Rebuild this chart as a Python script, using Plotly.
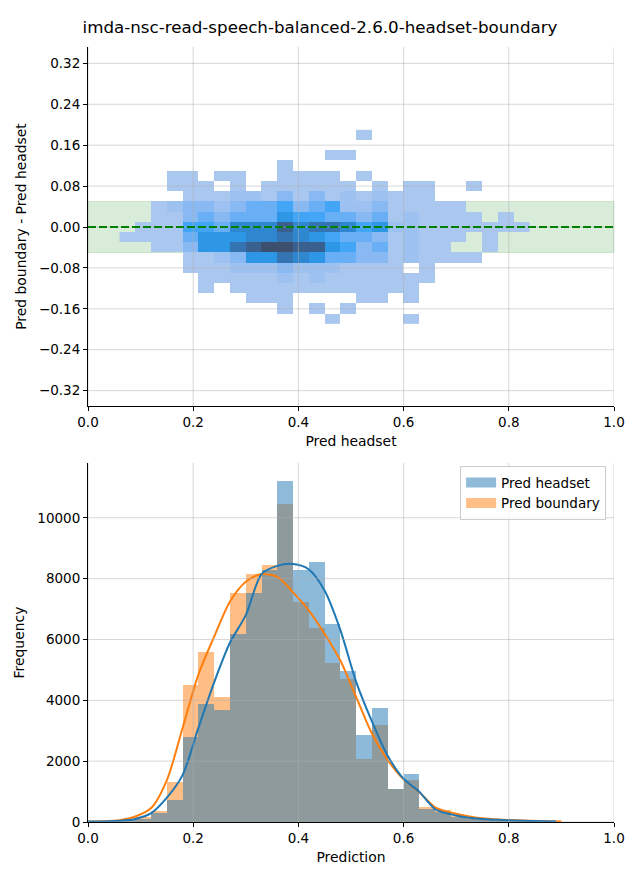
import plotly.graph_objects as go

# ---------------- data ----------------
title_text = "imda-nsc-read-speech-balanced-2.6.0-headset-boundary"

# 2D histogram (top): bin centres
hm_x = [0.075, 0.105, 0.135, 0.165, 0.195, 0.225, 0.255, 0.285, 0.315, 0.345,
        0.375, 0.405, 0.435, 0.465, 0.495, 0.525, 0.555, 0.585, 0.615, 0.645,
        0.675, 0.705, 0.735, 0.765, 0.795, 0.825]
hm_y = [0.18, 0.16, 0.14, 0.12, 0.10, 0.08, 0.06, 0.04, 0.02, 0.00,
        -0.02, -0.04, -0.06, -0.08, -0.10, -0.12, -0.14, -0.16, -0.18]
# colour-intensity level read from each cell (0 = empty)
hm_level = [
    [0,0,0,0,0,0,0,0,0,0,0,0,0,0,0,1,0,0,0,0,0,0,0,0,0,0],
    [0,0,0,0,0,0,0,0,0,0,0,0,0,0,0,0,0,0,0,0,0,0,0,0,0,0],
    [0,0,0,0,0,0,0,0,0,0,0,0,0,1,1,0,0,0,0,0,0,0,0,0,0,0],
    [0,0,0,0,0,0,0,0,0,0,1,0,0,0,0,0,0,0,0,0,0,0,0,0,0,0],
    [0,0,0,1,1,0,1,1,0,0,1,1,1,1,0,1,0,0,0,0,0,0,0,0,0,0],
    [0,0,0,1,1,1,0,1,0,1,1,1,1,1,1,0,1,0,1,1,0,0,1,0,0,0],
    [0,0,0,0,1,1,1,2,2,1,3,1,3,1,2,1,2,1,1,1,0,0,0,0,0,0],
    [0,0,1,2,3,3,2,3,4,4,5,3,4,5,2,2,3,1,1,1,1,1,0,0,0,0],
    [0,0,1,1,3,4,3,4,4,4,6,5,5,4,4,3,4,1,2,1,1,1,1,0,1,0],
    [0,1,1,1,5,5,4,7,7,7,9,7,8,8,7,5,6,2,2,1,1,1,1,1,1,1],
    [1,1,1,1,4,6,6,6,7,7,8,7,6,5,4,4,3,1,2,1,1,1,0,1,0,0],
    [0,0,1,1,3,6,6,8,9,10,10,9,9,6,5,3,4,1,2,1,1,0,0,1,0,0],
    [0,0,0,0,1,1,2,3,6,6,8,7,6,4,4,3,3,1,2,1,1,1,1,0,0,0],
    [0,0,0,0,1,1,1,2,2,2,3,2,2,2,1,1,1,1,0,1,0,0,0,0,0,0],
    [0,0,0,0,0,1,1,1,1,1,2,1,2,1,1,1,1,1,1,1,0,0,0,0,0,0],
    [0,0,0,0,0,1,0,1,1,1,1,1,1,1,1,1,1,1,1,0,0,0,0,0,0,0],
    [0,0,0,0,0,0,0,0,1,1,1,0,0,0,0,1,1,0,1,0,0,0,0,0,0,0],
    [0,0,0,0,0,0,0,0,0,0,1,0,1,0,1,0,0,0,0,0,0,0,0,0,0,0],
    [0,0,0,0,0,0,0,0,0,0,0,0,0,1,0,0,0,0,1,0,0,0,0,0,0,0],
]
# estimated count for each intensity level
level_count = [None, 50, 500, 1000, 1500, 2000, 2500, 3000, 3500, 4000, 4500]

# 1D histograms (bottom): left bin edges, bin width 0.03
hist_left = [0.00, 0.03, 0.06, 0.09, 0.12, 0.15, 0.18, 0.21, 0.24, 0.27,
             0.30, 0.33, 0.36, 0.39, 0.42, 0.45, 0.48, 0.51, 0.54, 0.57,
             0.60, 0.63, 0.66, 0.69, 0.72, 0.75, 0.78, 0.81, 0.84, 0.87]
headset_freq = [10, 20, 50, 90, 300, 720, 2780, 3880, 3690, 6190,
                7530, 8290, 11220, 8290, 8550, 6510, 4970, 2860, 3750, 1090,
                1580, 430, 340, 180, 110, 70, 50, 35, 20, 10]
boundary_freq = [10, 30, 60, 150, 370, 1310, 4500, 5590, 4110, 7530,
                 8160, 8450, 10460, 7240, 6380, 5230, 4710, 2070, 3190, 1090,
                 1380, 490, 390, 200, 120, 80, 60, 40, 25, 15]

# KDE curves
kde_headset_x = [0.00, 0.03, 0.06, 0.09, 0.12, 0.15, 0.18, 0.21, 0.24, 0.27,
                 0.30, 0.33, 0.36, 0.39, 0.42, 0.45, 0.48, 0.51, 0.54, 0.57,
                 0.60, 0.63, 0.66, 0.69, 0.72, 0.75, 0.78, 0.81, 0.84, 0.89]
kde_headset = [15, 20, 40, 100, 290, 800, 1550, 3100, 4600, 5900,
               6800, 8150, 8420, 8480, 8300, 7600, 6300, 4600, 3300, 2170,
               1420, 990, 420, 250, 150, 100, 70, 50, 35, 15]
kde_boundary_x = [0.00, 0.03, 0.06, 0.09, 0.12, 0.15, 0.18, 0.21, 0.24, 0.27,
                  0.30, 0.33, 0.36, 0.39, 0.42, 0.45, 0.48, 0.51, 0.54, 0.57,
                  0.60, 0.63, 0.66, 0.69, 0.72, 0.75, 0.78, 0.81, 0.84, 0.90]
kde_boundary = [15, 25, 60, 180, 460, 1380, 3100, 4850, 6100, 7250,
                7900, 8150, 8060, 7550, 6950, 6180, 5300, 4100, 2900, 2030,
                1400, 980, 480, 310, 200, 120, 80, 60, 40, 15]

top_xticks = [0.0, 0.2, 0.4, 0.6, 0.8, 1.0]
top_yticks = [-0.32, -0.24, -0.16, -0.08, 0.0, 0.08, 0.16, 0.24, 0.32]
bot_yticks = [0, 2000, 4000, 6000, 8000, 10000]
band_half = 0.05

# ---------------- figure ----------------
FONT = "DejaVu Sans"
C0 = "#1f77b4"
C1 = "#ff7f0e"
C0_HALF = "rgba(31,119,180,0.5)"
C1_HALF = "rgba(255,127,14,0.5)"
GRID = "rgba(176,176,176,0.5)"
# the page body has an 8px margin, so the figure is made 8px smaller
W, H = 632, 872

hm_z = [[level_count[v] for v in row] for row in hm_level]
cscale = [
    [0.0, "#abc8ef"], [0.111, "#9dc2f1"], [0.222, "#89b9f3"], [0.333, "#68aff6"],
    [0.444, "#42a5f6"], [0.556, "#2d96e5"], [0.667, "#2f87d0"], [0.778, "#3574b2"],
    [0.889, "#3a6090"], [1.0, "#3d4f6e"],
]

fig = go.Figure()
fig.add_trace(go.Heatmap(
    x=hm_x, y=hm_y, z=hm_z, colorscale=cscale, zmin=0, zmax=level_count[-1],
    showscale=False, hoverinfo="skip", xaxis="x", yaxis="y", xgap=0, ygap=0,
))
fig.add_trace(go.Bar(
    x=hist_left, y=boundary_freq, width=0.03, offset=0,
    marker=dict(color=C1, line=dict(width=0)), opacity=0.5,
    name="Pred boundary", showlegend=False, xaxis="x2", yaxis="y2",
))
fig.add_trace(go.Bar(
    x=hist_left, y=headset_freq, width=0.03, offset=0,
    marker=dict(color=C0, line=dict(width=0)), opacity=0.5,
    name="Pred headset", showlegend=False, xaxis="x2", yaxis="y2",
))
fig.add_trace(go.Scatter(
    x=kde_boundary_x, y=kde_boundary, mode="lines",
    line=dict(color=C1, width=2, shape="spline", smoothing=0.8),
    showlegend=False, xaxis="x2", yaxis="y2", hoverinfo="skip",
))
fig.add_trace(go.Scatter(
    x=kde_headset_x, y=kde_headset, mode="lines",
    line=dict(color=C0, width=2, shape="spline", smoothing=0.8),
    showlegend=False, xaxis="x2", yaxis="y2", hoverinfo="skip",
))
# legend proxies (wide patches like matplotlib's legend handles)
fig.add_trace(go.Scatter(
    x=[None], y=[None], mode="lines", line=dict(color=C0_HALF, width=10),
    name="Pred headset", legendrank=1, xaxis="x2", yaxis="y2",
))
fig.add_trace(go.Scatter(
    x=[None], y=[None], mode="lines", line=dict(color=C1_HALF, width=10),
    name="Pred boundary", legendrank=2, xaxis="x2", yaxis="y2",
))

shapes = []
shapes.append(dict(type="rect", xref="x domain", yref="y", x0=0, x1=1,
                   y0=-band_half, y1=band_half, fillcolor="rgba(0,128,0,0.15)",
                   line=dict(color="rgba(0,128,0,0.15)", width=1), layer="below"))
for v in top_xticks:
    shapes.append(dict(type="line", xref="x", yref="y domain", x0=v, x1=v, y0=0, y1=1,
                       line=dict(color=GRID, width=1), layer="above"))
    shapes.append(dict(type="line", xref="x2", yref="y2 domain", x0=v, x1=v, y0=0, y1=1,
                       line=dict(color=GRID, width=1), layer="above"))
for v in top_yticks:
    shapes.append(dict(type="line", xref="x domain", yref="y", x0=0, x1=1, y0=v, y1=v,
                       line=dict(color=GRID, width=1), layer="above"))
for v in bot_yticks:
    shapes.append(dict(type="line", xref="x2 domain", yref="y2", x0=0, x1=1, y0=v, y1=v,
                       line=dict(color=GRID, width=1), layer="above"))
shapes.append(dict(type="line", xref="x domain", yref="y", x0=0, x1=1, y0=0, y1=0,
                   line=dict(color="#008000", width=2, dash="8px,3px"), layer="above"))

tickfont = dict(family=FONT, size=13.5, color="#000")
titlefont = dict(family=FONT, size=13.9, color="#000")
axis_common = dict(showgrid=False, zeroline=False, showline=True, linecolor="#000",
                   linewidth=1, ticks="outside", ticklen=4, tickwidth=1, tickcolor="#000",
                   tickfont=tickfont, mirror=False)

fig.update_layout(
    width=W, height=H,
    margin=dict(l=80, r=26, t=39, b=58, autoexpand=False),
    paper_bgcolor="white", plot_bgcolor="white",
    font=dict(family=FONT, color="#000"),
    title=dict(text=title_text, x=(320 - 8) / W, xref="container", xanchor="center",
               y=1 - (27 - 8) / H, yref="container", yanchor="middle",
               font=dict(family=FONT, size=16.7, color="#000")),
    barmode="overlay",
    bargap=0,
    shapes=shapes,
    xaxis=dict(domain=[0, 1], anchor="y", range=[0, 1], tickvals=top_xticks,
               tickformat=".1f",
               title=dict(text="Pred headset", font=titlefont, standoff=7),
               **axis_common),
    yaxis=dict(domain=[0.5368, 1.0], anchor="x", range=[-0.35, 0.352],
               tickvals=top_yticks, tickformat=".2f",
               title=dict(text="Pred boundary - Pred headset", font=titlefont, standoff=9),
               **axis_common),
    xaxis2=dict(domain=[0, 1], anchor="y2", range=[0, 1], tickvals=top_xticks,
                tickformat=".1f",
                title=dict(text="Prediction", font=titlefont, standoff=7),
                **axis_common),
    yaxis2=dict(domain=[0, 0.4632], anchor="x2", range=[0, 11800],
                tickvals=bot_yticks, tickformat="d",
                title=dict(text="Frequency", font=titlefont, standoff=9),
                **axis_common),
    legend=dict(x=0.985, y=0.459, xanchor="right", yanchor="top",
                bgcolor="rgba(255,255,255,0.8)", bordercolor="#cccccc", borderwidth=1,
                font=dict(family=FONT, size=13.5, color="#000"), itemwidth=30,
                tracegroupgap=0),
)

fig.write_html("out.html")
